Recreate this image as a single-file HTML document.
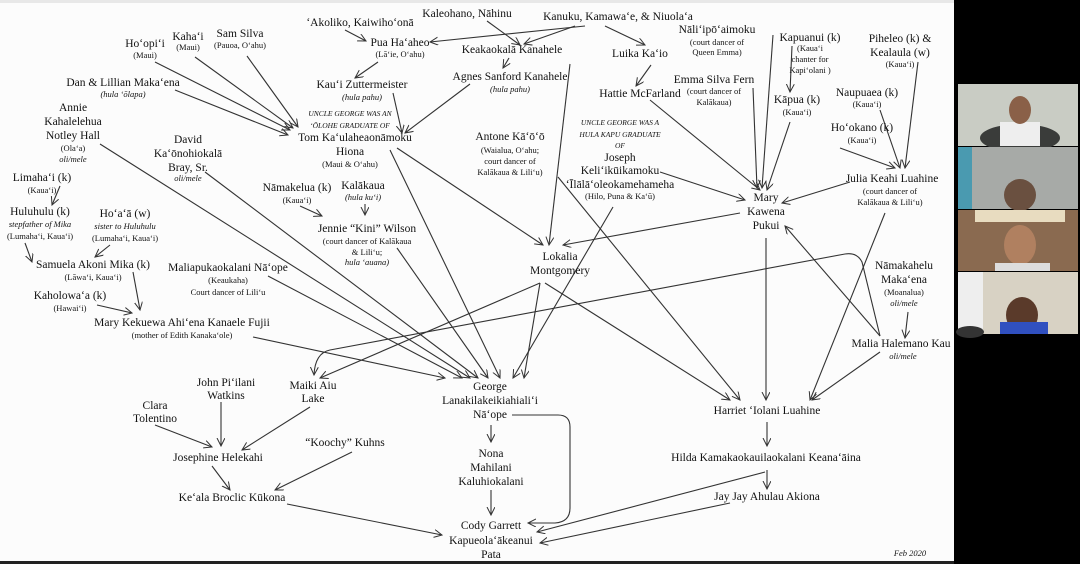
<!DOCTYPE html>
<html><head><meta charset="utf-8"><style>
html,body{margin:0;padding:0;}
body{width:1080px;height:564px;overflow:hidden;background:#000;position:relative;}
svg{position:absolute;left:0;top:0;}
text{font-family:"Liberation Serif",serif;fill:#111;text-anchor:middle;}
.n{font-size:11.5px;}
.s{font-size:8.5px;}
.i{font-size:8.5px;font-style:italic;}
.c{font-size:7.5px;font-style:italic;}
line,path{stroke:#333;stroke-width:1.1;fill:none;}
</style></head><body>
<svg width="1080" height="564" viewBox="0 0 1080 564">
<defs><marker id="a" markerWidth="10" markerHeight="10" refX="8" refY="4" orient="auto" markerUnits="userSpaceOnUse"><path d="M0,0 L8,4 L0,8" style="stroke:#333;stroke-width:1;fill:none"/></marker></defs>
<rect x="0" y="0" width="954" height="564" fill="#fcfcfc"/>
<rect x="0" y="0" width="954" height="3" fill="#e8e8e8"/>
<rect x="0" y="561" width="954" height="3" fill="#222"/>
<!-- webcams -->
<rect x="958" y="84" width="120" height="62" fill="#c9ccc4"/>
<ellipse cx="1020" cy="138" rx="40" ry="14" fill="#3a3c3a"/>
<rect x="1000" y="122" width="40" height="24" fill="#eee"/>
<ellipse cx="1020" cy="110" rx="11" ry="14" fill="#8a6048"/>
<rect x="958" y="147" width="120" height="62" fill="#a7aaa7"/>
<rect x="958" y="147" width="14" height="62" fill="#4a9ab0"/>
<ellipse cx="1020" cy="195" rx="16" ry="16" fill="#6a5040"/>
<rect x="958" y="210" width="120" height="61" fill="#8a6a50"/>
<rect x="975" y="210" width="90" height="12" fill="#e8dcc0"/>
<ellipse cx="1020" cy="245" rx="16" ry="20" fill="#b08060"/>
<rect x="995" y="263" width="55" height="8" fill="#ddd"/>
<rect x="958" y="272" width="120" height="62" fill="#d8d2c4"/>
<rect x="958" y="272" width="25" height="62" fill="#eee"/>
<ellipse cx="1022" cy="315" rx="16" ry="18" fill="#5a3a2a"/>
<rect x="1000" y="322" width="48" height="12" fill="#3050c0"/>
<ellipse cx="970" cy="332" rx="14" ry="6" fill="#333"/>

<g marker-end="url(#a)">
<line x1="345" y1="30" x2="366" y2="41"/>
<line x1="585" y1="26" x2="430" y2="42"/>
<line x1="487" y1="21" x2="520" y2="45"/>
<line x1="575" y1="26" x2="524" y2="44"/>
<line x1="605" y1="26" x2="645" y2="45"/>
<line x1="378" y1="62" x2="355" y2="78"/>
<line x1="509" y1="58" x2="503" y2="68"/>
<line x1="651" y1="65" x2="636" y2="86"/>
<line x1="570" y1="64" x2="549" y2="245"/>
<line x1="155" y1="62" x2="290" y2="130"/>
<line x1="195" y1="57" x2="293" y2="128"/>
<line x1="247" y1="56" x2="298" y2="127"/>
<line x1="175" y1="90" x2="288" y2="135"/>
<line x1="393" y1="93" x2="402" y2="133"/>
<line x1="470" y1="84" x2="405" y2="133"/>
<line x1="397" y1="148" x2="543" y2="245"/>
<line x1="390" y1="150" x2="500" y2="378"/>
<line x1="100" y1="144" x2="470" y2="378"/>
<line x1="205" y1="172" x2="478" y2="378"/>
<line x1="300" y1="206" x2="322" y2="216"/>
<line x1="365" y1="204" x2="365" y2="215"/>
<line x1="397" y1="248" x2="488" y2="378"/>
<line x1="558" y1="177" x2="740" y2="400"/>
<line x1="660" y1="172" x2="745" y2="200"/>
<line x1="613" y1="207" x2="513" y2="378"/>
<line x1="650" y1="100" x2="760" y2="190"/>
<line x1="753" y1="88" x2="757" y2="188"/>
<line x1="773" y1="35" x2="762" y2="188"/>
<line x1="792" y1="46" x2="790" y2="92"/>
<line x1="790" y1="122" x2="767" y2="190"/>
<line x1="918" y1="62" x2="905" y2="168"/>
<line x1="880" y1="110" x2="900" y2="168"/>
<line x1="840" y1="148" x2="895" y2="168"/>
<line x1="850" y1="182" x2="782" y2="203"/>
<line x1="885" y1="213" x2="810" y2="400"/>
<line x1="740" y1="213" x2="563" y2="245"/>
<line x1="766" y1="238" x2="766" y2="400"/>
<line x1="880" y1="336" x2="785" y2="226"/>
<path d="M880,336 L862,262 Q857,252 845,254 L330,350 Q315,353 314,375"/>
<line x1="540" y1="283" x2="320" y2="378"/>
<line x1="540" y1="283" x2="524" y2="378"/>
<line x1="545" y1="283" x2="730" y2="400"/>
<line x1="133" y1="272" x2="140" y2="310"/>
<line x1="97" y1="305" x2="132" y2="313"/>
<line x1="25" y1="243" x2="32" y2="262"/>
<line x1="110" y1="245" x2="95" y2="257"/>
<line x1="60" y1="186" x2="52" y2="205"/>
<line x1="253" y1="337" x2="445" y2="378"/>
<line x1="268" y1="276" x2="462" y2="378"/>
<line x1="908" y1="312" x2="905" y2="338"/>
<line x1="880" y1="352" x2="812" y2="400"/>
<line x1="767" y1="422" x2="767" y2="446"/>
<line x1="767" y1="470" x2="767" y2="489"/>
<line x1="765" y1="472" x2="537" y2="532"/>
<line x1="730" y1="503" x2="540" y2="543"/>
<path d="M512,415 L558,415 Q570,415 570,427 L570,508 Q570,522 555,523 L528,523"/>
<line x1="491" y1="425" x2="491" y2="442"/>
<line x1="491" y1="490" x2="491" y2="515"/>
<line x1="310" y1="407" x2="242" y2="450"/>
<line x1="221" y1="402" x2="221" y2="446"/>
<line x1="155" y1="425" x2="212" y2="447"/>
<line x1="212" y1="466" x2="230" y2="490"/>
<line x1="352" y1="452" x2="275" y2="490"/>
<line x1="287" y1="504" x2="442" y2="535"/>
</g>

<text class="n" x="360" y="26">ʻAkoliko, Kaiwihoʻonā</text>
<text class="n" x="467" y="17">Kaleohano, Nāhinu</text>
<text class="n" x="618" y="20">Kanuku, Kamawaʻe, &amp; Niuolaʻa</text>
<text class="n" x="400" y="46">Pua Haʻaheo</text><text class="s" x="400" y="57">(Lāʻie, Oʻahu)</text>
<text class="n" x="145" y="47">Hoʻopiʻi</text><text class="s" x="145" y="58">(Maui)</text>
<text class="n" x="188" y="40">Kahaʻi</text><text class="s" x="188" y="50">(Maui)</text>
<text class="n" x="240" y="37">Sam Silva</text><text class="s" x="240" y="48">(Pauoa, Oʻahu)</text>
<text class="n" x="362" y="88">Kauʻi Zuttermeister</text><text class="i" x="362" y="100">(hula pahu)</text>
<text class="n" x="123" y="86">Dan &amp; Lillian Makaʻena</text><text class="i" x="123" y="97">(hula ʻōlapa)</text>
<text class="n" x="512" y="53">Keakaokalā Kanahele</text>
<text class="n" x="640" y="57">Luika Kaʻio</text>
<text class="n" x="510" y="80">Agnes Sanford Kanahele</text><text class="i" x="510" y="92">(hula pahu)</text>
<text class="n" x="640" y="97">Hattie McFarland</text>
<text class="n" x="717" y="33">Nāliʻipōʻaimoku</text><text class="s" x="717" y="45">(court dancer of</text><text class="s" x="717" y="55">Queen Emma)</text>
<text class="n" x="810" y="41">Kapuanui (k)</text><text class="s" x="810" y="51">(Kauaʻi</text><text class="s" x="810" y="62">chanter for</text><text class="s" x="810" y="73">Kapiʻolani )</text>
<text class="n" x="900" y="42">Piheleo (k) &amp;</text><text class="n" x="900" y="56">Kealaula (w)</text><text class="s" x="900" y="67">(Kauaʻi)</text>
<text class="n" x="714" y="83">Emma Silva Fern</text><text class="s" x="714" y="94">(court dancer of</text><text class="s" x="714" y="105">Kalākaua)</text>
<text class="n" x="797" y="103">Kāpua (k)</text><text class="s" x="797" y="115">(Kauaʻi)</text>
<text class="n" x="867" y="96">Naupuaea (k)</text><text class="s" x="867" y="107">(Kauaʻi)</text>
<text class="n" x="862" y="131">Hoʻokano (k)</text><text class="s" x="862" y="143">(Kauaʻi)</text>
<text class="c" x="350" y="116">UNCLE GEORGE WAS AN</text><text class="c" x="350" y="128">ʻŌLOHE GRADUATE OF</text>
<text class="n" x="355" y="141">Tom Kaʻulaheaonāmoku</text><text class="n" x="350" y="155">Hiona</text><text class="s" x="350" y="167">(Maui &amp; Oʻahu)</text>
<text class="n" x="73" y="111">Annie</text><text class="n" x="73" y="125">Kahalelehua</text><text class="n" x="73" y="139">Notley Hall</text><text class="s" x="73" y="151">(Olaʻa)</text><text class="i" x="73" y="162">oli/mele</text>
<text class="n" x="188" y="143">David</text><text class="n" x="188" y="157">Kaʻōnohiokalā</text><text class="n" x="188" y="171">Bray, Sr.</text><text class="i" x="188" y="181">oli/mele</text>
<text class="n" x="510" y="140">Antone Kāʻōʻō</text><text class="s" x="510" y="153">(Waialua, Oʻahu;</text><text class="s" x="510" y="164">court dancer of</text><text class="s" x="510" y="175">Kalākaua &amp; Liliʻu)</text>
<text class="c" x="620" y="125">UNCLE GEORGE WAS A</text><text class="c" x="620" y="137">HULA KAPU GRADUATE</text><text class="c" x="620" y="148">OF</text>
<text class="n" x="620" y="161">Joseph</text><text class="n" x="620" y="174">Keliʻikūikamoku</text><text class="n" x="620" y="188">ʻĪlālāʻoleokamehameha</text><text class="s" x="620" y="199">(Hilo, Puna &amp; Kaʻū)</text>
<text class="n" x="766" y="201">Mary</text><text class="n" x="766" y="215">Kawena</text><text class="n" x="766" y="229">Pukui</text>
<text class="n" x="892" y="182">Julia Keahi Luahine</text><text class="s" x="890" y="194">(court dancer of</text><text class="s" x="890" y="205">Kalākaua &amp; Liliʻu)</text>
<text class="n" x="42" y="181">Limahaʻi (k)</text><text class="s" x="42" y="193">(Kauaʻi)</text>
<text class="n" x="40" y="215">Huluhulu (k)</text><text class="i" x="40" y="227">stepfather of Mika</text><text class="s" x="40" y="239">(Lumahaʻi, Kauaʻi)</text>
<text class="n" x="125" y="217">Hoʻaʻā (w)</text><text class="i" x="125" y="229">sister to Huluhulu</text><text class="s" x="125" y="241">(Lumahaʻi, Kauaʻi)</text>
<text class="n" x="297" y="191">Nāmakelua (k)</text><text class="s" x="297" y="203">(Kauaʻi)</text>
<text class="n" x="363" y="189">Kalākaua</text><text class="i" x="363" y="200">(hula kuʻi)</text>
<text class="n" x="367" y="232">Jennie “Kini” Wilson</text><text class="s" x="367" y="244">(court dancer of Kalākaua</text><text class="s" x="367" y="255">&amp; Liliʻu;</text><text class="i" x="367" y="265">hula ʻauana)</text>
<text class="n" x="560" y="260">Lokalia</text><text class="n" x="560" y="274">Montgomery</text>
<text class="n" x="93" y="268">Samuela Akoni Mika (k)</text><text class="s" x="93" y="280">(Lāwaʻi, Kauaʻi)</text>
<text class="n" x="228" y="271">Maliapukaokalani Nāʻope</text><text class="s" x="228" y="283">(Keaukaha)</text><text class="s" x="228" y="295">Court dancer of Liliʻu</text>
<text class="n" x="904" y="269">Nāmakahelu</text><text class="n" x="904" y="283">Makaʻena</text><text class="s" x="904" y="295">(Moanalua)</text><text class="i" x="904" y="306">oli/mele</text>
<text class="n" x="70" y="299">Kaholowaʻa (k)</text><text class="s" x="70" y="311">(Hawaiʻi)</text>
<text class="n" x="182" y="326">Mary Kekuewa Ahiʻena Kanaele Fujii</text><text class="s" x="182" y="338">(mother of Edith Kanakaʻole)</text>
<text class="n" x="901" y="347">Malia Halemano Kau</text><text class="i" x="903" y="359">oli/mele</text>
<text class="n" x="313" y="389">Maiki Aiu</text><text class="n" x="313" y="402">Lake</text>
<text class="n" x="226" y="386">John Piʻilani</text><text class="n" x="226" y="399">Watkins</text>
<text class="n" x="155" y="409">Clara</text><text class="n" x="155" y="422">Tolentino</text>
<text class="n" x="490" y="390">George</text><text class="n" x="490" y="404">Lanakilakeikiahialiʻi</text><text class="n" x="490" y="418">Nāʻope</text>
<text class="n" x="767" y="414">Harriet ʻIolani Luahine</text>
<text class="n" x="218" y="461">Josephine Helekahi</text>
<text class="n" x="345" y="446">“Koochy” Kuhns</text>
<text class="n" x="491" y="457">Nona</text><text class="n" x="491" y="471">Mahilani</text><text class="n" x="491" y="485">Kaluhiokalani</text>
<text class="n" x="766" y="461">Hilda Kamakaokauilaokalani Keanaʻāina</text>
<text class="n" x="232" y="501">Keʻala Broclic Kūkona</text>
<text class="n" x="767" y="500">Jay Jay Ahulau Akiona</text>
<text class="n" x="491" y="529">Cody Garrett</text><text class="n" x="491" y="544">Kapueolaʻākeanui</text><text class="n" x="491" y="558">Pata</text>
<text class="i" x="910" y="556">Feb 2020</text>
</svg>
</body></html>
